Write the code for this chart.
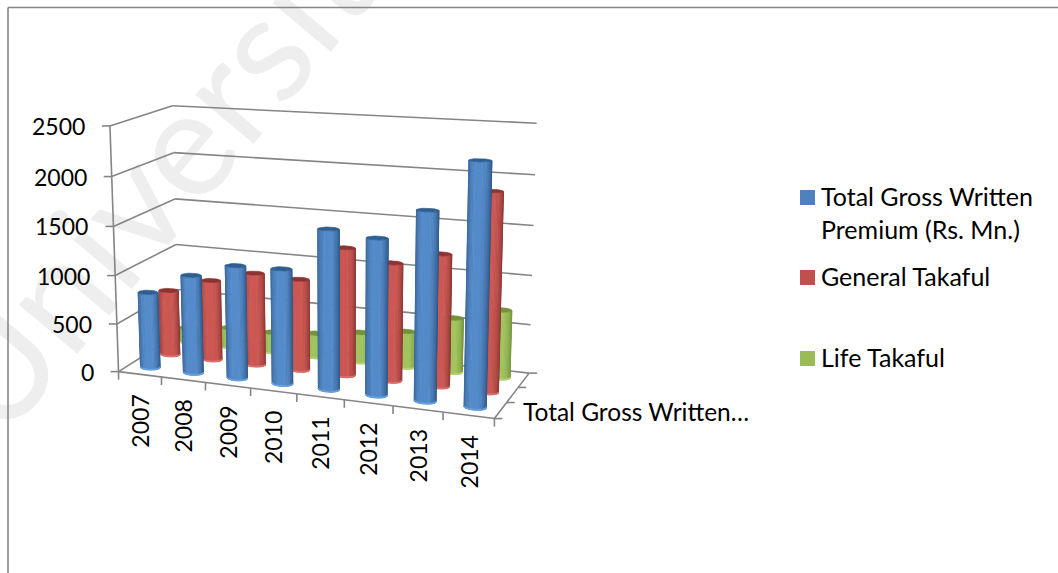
import numpy as np, plotly.graph_objects as go

# ---- chart data ----
years = ["2007", "2008", "2009", "2010", "2011", "2012", "2013", "2014"]
total = [790, 1010, 1150, 1160, 1590, 1540, 1840, 2330]
general = [690, 840, 960, 940, 1300, 1190, 1320, 1960]
life = [160, 210, 210, 250, 310, 370, 560, 690]
value_ticks = [0, 500, 1000, 1500, 2000, 2500]
series_names = ["Total Gross Written Premium (Rs. Mn.)", "General Takaful", "Life Takaful"]
depth_label = "Total Gross Written…"

W, H = 1058, 573
NX, NY, ZMAX = len(years), 3, value_ticks[-1]

# ---- 3-D box -> page projection, calibrated on the reference's axis box ----
CAL = [((0,0,0),(118,372.5)),((0,0,1),(110,126)),((0,1,1),(172.7,102.7)),((0,1,0),(179.3,333)),
       ((1,1,1),(536.7,125.3)),((1,1,0),(528.3,371.7)),((1,0,0),(491,418.5)),
       ((1/8,0,0),(161.7,378)),((2/8,0,0),(206,383)),((3/8,0,0),(250.7,388)),((4/8,0,0),(296.7,394)),
       ((5/8,0,0),(344,401.7)),((6/8,0,0),(391.7,406.7)),((7/8,0,0),(440.7,412.7)),
       ((0,0,.2),(116,324)),((0,0,.4),(115,276)),((0,0,.6),(113.5,226.7)),((0,0,.8),(112,176.7)),
       ((1,1,.2),(530,323.3)),((1,1,.4),(531.7,275)),((1,1,.6),(533.3,226)),((1,1,.8),(535,176)),
       ((1,1/3,0),(521.7,385)),((1,2/3,0),(511.7,401.7))]
A, b = [], []
for (u, v, w), (px, py) in CAL:
    A.append([u, v, w, 1, 0, 0, 0, 0, -px*u, -px*v, -px*w]); b.append(px)
    A.append([0, 0, 0, 0, u, v, w, 1, -py*u, -py*v, -py*w]); b.append(py)
M = np.append(np.linalg.lstsq(np.array(A), np.array(b), rcond=None)[0], 1).reshape(3, 4)

def project(cat, ser, val):
    h = M @ np.array([cat/NX, ser/NY, val/ZMAX, 1.0])
    return h[0]/h[2], h[1]/h[2]

# ---- cylinder helpers ----
RX, RY, FACETS, LEVELS = 0.215, 0.17, 48, 14
THETA = np.linspace(0, 2*np.pi, FACETS+1)
RIM = 9

def mix(a, b, t):
    return "rgb(%d,%d,%d)" % tuple(round(a[i]+(b[i]-a[i])*t) for i in range(3))

def ring(cx, cy, val):
    return [project(cx+RX*np.cos(t), cy+RY*np.sin(t), val) for t in THETA]

STYLES = [dict(light=(86,141,205), dark=(42,82,128), top=(47,94,145), rim=(105,162,220)),
          dict(light=(207,88,84), dark=(134,52,50), top=(140,52,50), rim=(222,115,110)),
          dict(light=(163,198,94), dark=(112,142,58), top=(116,146,60), rim=(185,212,120))]

fig = go.Figure()

def add_poly(xs, ys, color, name):
    fig.add_trace(go.Scatter(x=xs, y=ys, mode="lines", fill="toself", fillcolor=color,
                             line=dict(color=color, width=0.7), hoverinfo="skip", name=name,
                             showlegend=False))

# ---- floor / wall frame ----
GRID = "#858585"
lx, ly = [], []
def seg(p, q):
    lx.extend([p[0], q[0], None]); ly.extend([p[1], q[1], None])
for t in value_ticks:
    f, b_, r = project(0, 0, t), project(0, NY, t), project(NX, NY, t)
    seg(f, b_); seg(b_, r); seg(f, (f[0]-8, f[1]))
seg(project(0, 0, 0), project(0, 0, ZMAX))
seg(project(0, 0, 0), project(NX, 0, 0))
seg(project(NX, 0, 0), project(NX, NY, 0))
for i in range(NX+1):
    p = project(i, 0, 0); seg(p, (p[0], p[1]+8))
for j in range(NY+1):
    p = project(NX, j, 0); seg(p, (p[0]+8, p[1]))
fig.add_trace(go.Scatter(x=lx, y=ly, mode="lines", line=dict(color=GRID, width=1.6),
                         hoverinfo="skip", showlegend=False))

# ---- cylinders, back row first ----
rows = [total, general, life]
for j in [2, 1, 0]:
    st, vals = STYLES[j], rows[j]
    bands = [([], []) for _ in range(LEVELS)]
    rimx, rimy, capx, capy = [], [], [], []
    for i, v in enumerate(vals):
        cx, cy = i+.5, j+.5
        lo, lo2, hi = ring(cx, cy, 0), ring(cx, cy, RIM), ring(cx, cy, v)
        xs = [p[0] for p in lo]
        xmin, xmax = min(xs), max(xs)
        iL, iR = int(np.argmin(xs[:-1])), int(np.argmax(xs[:-1]))
        pL, pR = lo[iL], lo[iR]
        for k in range(FACETS):
            a, c = lo[k], lo[k+1]
            mx, my = (a[0]+c[0])/2, (a[1]+c[1])/2
            # a facet faces the viewer when it lies below the ellipse's left-right chord
            if my < pL[1] + (mx-pL[0])*(pR[1]-pL[1])/(pR[0]-pL[0]):
                continue
            u = (mx-xmin)/(xmax-xmin)*2-1
            s = max(0, 1-((u+0.08)/1.08)**2)**0.75
            lev = min(LEVELS-1, int(s*LEVELS))
            bx, by = bands[lev]
            bx += [a[0], c[0], hi[k+1][0], hi[k][0], a[0], None]
            by += [a[1], c[1], hi[k+1][1], hi[k][1], a[1], None]
            rimx += [a[0], c[0], lo2[k+1][0], lo2[k][0], a[0], None]
            rimy += [a[1], c[1], lo2[k+1][1], lo2[k][1], a[1], None]
        capx += [p[0] for p in hi]+[None]
        capy += [p[1] for p in hi]+[None]
    for lev, (bx, by) in enumerate(bands):
        if bx:
            add_poly(bx, by, mix(st["dark"], st["light"], (lev+.5)/LEVELS), series_names[j])
    add_poly(rimx, rimy, mix(st["rim"], st["rim"], 0), series_names[j])
    add_poly(capx, capy, mix(st["top"], st["top"], 0), series_names[j])

# ---- text ----
FONT = "Lato"
def label(x, y, text, size, **kw):
    fig.add_annotation(x=x, y=y, text=text, showarrow=False,
                       font=dict(family=FONT, size=size, color="black"), **kw)
for t in value_ticks:
    p = project(0, 0, t)
    label(p[0]-23, p[1], str(t), 23, xanchor="right", yanchor="middle")
for i, yr in enumerate(years):
    p = project(i+.5, 0, 0)
    label(p[0], p[1]+18, yr, 23, textangle=-90, xanchor="center", yanchor="top")
label(521, 411.5, depth_label, 24.5, xanchor="left", yanchor="middle")

LEG = [(190, "Total Gross Written<br>Premium (Rs. Mn.)"), (270, series_names[1]), (351, series_names[2])]
LEGC = ["#4f81bd", "#c0504d", "#9bbb59"]
shapes = []
for (top, txt), c in zip(LEG, LEGC):
    shapes.append(dict(type="rect", x0=800, x1=815, y0=top, y1=top+15, fillcolor=c, line=dict(width=0), layer="above"))
label(819, 212, LEG[0][1], 25, xanchor="left", yanchor="middle", align="left")
label(819, 276, LEG[1][1], 25, xanchor="left", yanchor="middle")
label(819, 357, LEG[2][1], 25, xanchor="left", yanchor="middle")

# outer chart border
shapes.append(dict(type="line", x0=8, x1=1058, y0=7.5, y1=7.5, line=dict(color="#868686", width=1.6), layer="above"))
shapes.append(dict(type="line", x0=8, x1=8, y0=7.5, y1=573, line=dict(color="#868686", width=1.6), layer="above"))
# watermark
shapes.append(dict(type="rect", x0=160, x1=180, y0=140, y1=160, line=dict(width=0), fillcolor="rgba(0,0,0,0)", layer="below",
                   label=dict(text="University", textangle=-50, textposition="middle center",
                              font=dict(family=FONT, size=150, color="#eeeeee"))))

fig.update_layout(width=W, height=H, margin=dict(l=0, r=0, t=0, b=0), paper_bgcolor="white", plot_bgcolor="white",
                  showlegend=False, hovermode=False, shapes=shapes,
                  xaxis=dict(range=[0, W], visible=False, fixedrange=True),
                  yaxis=dict(range=[H, 0], visible=False, fixedrange=True))
fig.write_html("out.html", config=dict(displayModeBar=False),
               post_script="document.body.style.margin='0';document.documentElement.style.overflow='hidden';")
